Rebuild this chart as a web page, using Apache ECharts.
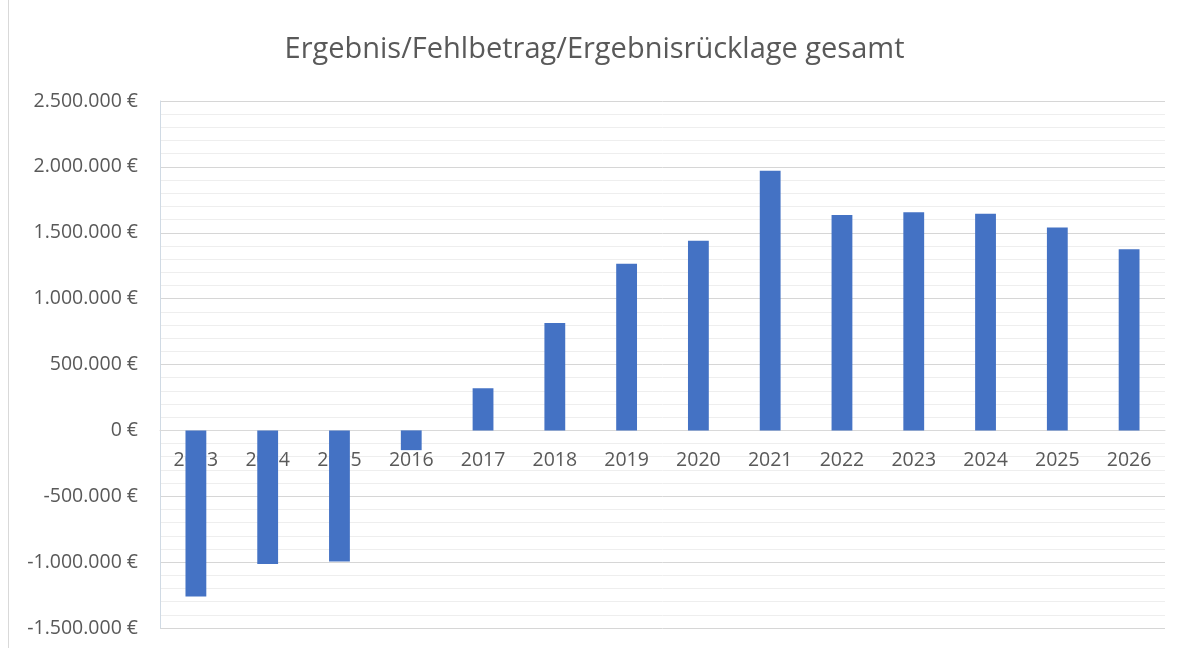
<!DOCTYPE html>
<html><head><meta charset="utf-8">
<script src="https://cdn.jsdelivr.net/npm/echarts@6/dist/echarts.min.js"></script>
<style>html,body{margin:0;padding:0;background:#fff}#c{width:1189px;height:648px}</style>
</head><body><div id="c"></div>
<script>
const titleText = 'Ergebnis/Fehlbetrag/Ergebnisrücklage gesamt';
const categories = ['2013','2014','2015','2016','2017','2018','2019','2020','2021','2022','2023','2024','2025','2026'];
const values = [-1260000,-1015000,-995000,-150000,320000,815000,1265000,1440000,1970000,1635000,1655000,1645000,1540000,1375000];
const yMin = -1500000, yMax = 2500000, yStep = 500000;

function fmt(v){
  const s = Math.abs(v).toString().replace(/\B(?=(\d{3})+(?!\d))/g,'.');
  return (v<0?'-':'') + s + ' €';
}
const H = 648, gTop = 101, gBottom = 20;
const gH = H - gTop - gBottom;
// distance from bottom of plot to zero line
const zeroFromBottom = gH * (0 - yMin) / (yMax - yMin);

const chart = echarts.init(document.getElementById('c'));
chart.setOption({
  animation:false,
  title:{text:titleText,left:'center',top:30,textStyle:{fontFamily:'Open Sans',fontSize:29,fontWeight:'normal',color:'#595959'}},
  grid:{left:160,right:24,top:gTop,bottom:gBottom,outerBoundsMode:'none',containLabel:false},
  xAxis:{type:'category',data:categories,offset:-zeroFromBottom,
    axisLine:{onZero:false,lineStyle:{color:'#d9d9d9',width:1}},
    axisTick:{show:false},
    axisLabel:{color:'#595959',fontFamily:'Open Sans',fontSize:19.5,margin:20}},
  yAxis:{type:'value',min:yMin,max:yMax,interval:yStep,
    axisLine:{show:true,lineStyle:{color:'#d0dae4'}},
    axisTick:{show:false},
    axisLabel:{formatter:fmt,color:'#595959',fontFamily:'Open Sans',fontSize:19.5,margin:22},
    splitLine:{lineStyle:{color:'#d6d6d6'}},
    minorTick:{show:false,splitNumber:5},
    minorSplitLine:{show:true,lineStyle:{color:'#eeeeee'}}},
  series:[{type:'bar',data:values,barWidth:'29%',itemStyle:{color:'#4472c4'}}],
  graphic:[{type:'line',shape:{x1:8.5,y1:0,x2:8.5,y2:648},style:{stroke:'#d9d9d9',lineWidth:1}}]
});
</script></body></html>
